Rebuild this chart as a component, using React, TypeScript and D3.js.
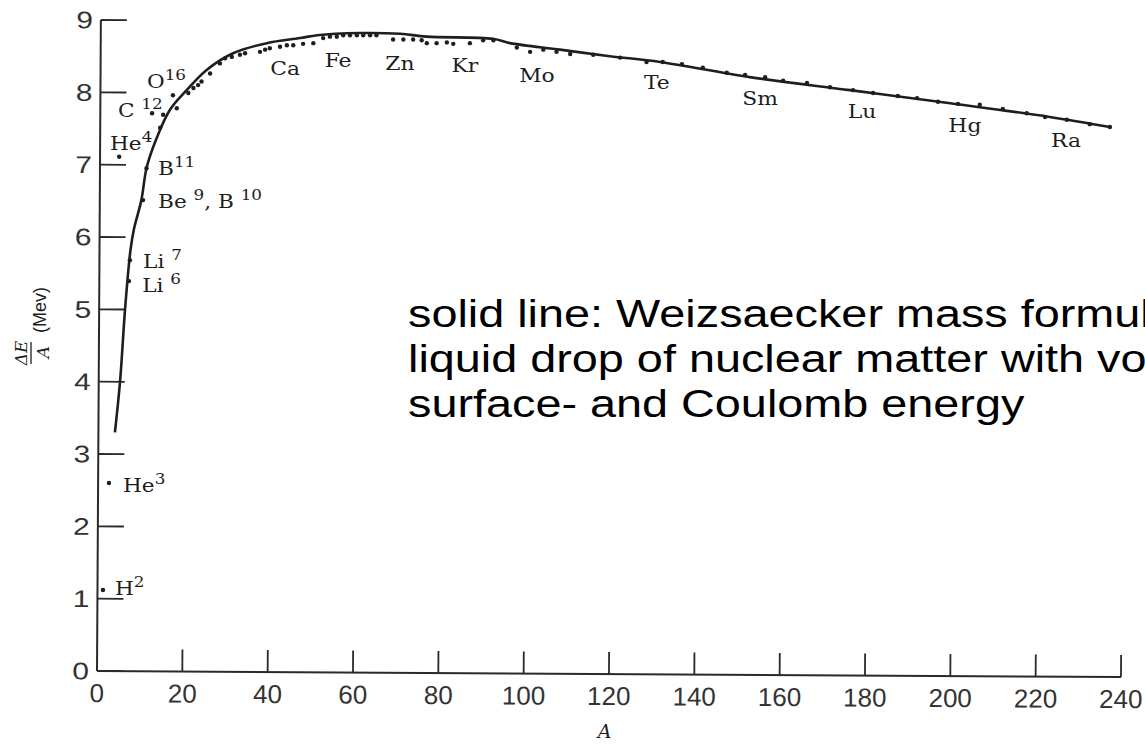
import React from "react";
import * as d3 from "d3";

// ---- data ----
const xTickValues = [0, 20, 40, 60, 80, 100, 120, 140, 160, 180, 200, 220, 240];
const yTickValues = [0, 1, 2, 3, 4, 5, 6, 7, 8, 9];

// Weizsaecker curve (A, ΔE/A)
const curveA = [4.2, 5.4, 6.6, 7.85, 8.7, 10.4, 11.6, 13.8, 17.1, 21.0, 25.7, 31.9, 39.8, 47.6, 51.6, 61.6, 71.0, 77.3, 92.8, 96.8, 108.5, 120.2, 132.0, 153.0, 176.5, 200.0, 223.3, 237.4];
const curveE = [3.3, 4.0, 5.02, 5.82, 6.12, 6.51, 6.95, 7.34, 7.76, 8.03, 8.31, 8.54, 8.68, 8.75, 8.79, 8.82, 8.81, 8.77, 8.74, 8.68, 8.59, 8.5, 8.42, 8.21, 8.03, 7.85, 7.66, 7.52];

// measured nuclides (A, ΔE/A)
const pointA = [1.4, 2.8, 5.2, 7.5, 7.7, 10.8, 11.6, 12.9, 14.8, 15.5, 17.8, 18.7, 21.4, 22.6, 23.7, 24.5, 26.5, 28.8, 30.0, 31.6, 33.5, 34.7, 38.2, 39.4, 40.5, 42.9, 44.5, 46.0, 48.3, 50.7, 53.0, 54.6, 56.2, 57.7, 59.3, 60.9, 62.4, 64.0, 65.5, 69.4, 71.8, 74.1, 76.1, 77.3, 79.6, 82.0, 83.5, 87.4, 90.5, 92.9, 98.4, 101.5, 104.6, 107.7, 110.9, 116.3, 122.6, 128.8, 132.6, 137.1, 142.0, 147.6, 151.9, 156.6, 160.8, 166.4, 171.8, 177.2, 181.9, 187.7, 192.2, 197.1, 201.8, 206.9, 212.3, 217.9, 222.2, 227.3, 232.7, 237.4];
const pointE = [1.12, 2.6, 7.11, 5.39, 5.68, 6.51, 6.95, 7.71, 7.51, 7.69, 7.96, 7.78, 7.99, 8.06, 8.10, 8.15, 8.26, 8.40, 8.47, 8.49, 8.52, 8.54, 8.56, 8.59, 8.61, 8.63, 8.65, 8.65, 8.67, 8.68, 8.75, 8.77, 8.77, 8.79, 8.79, 8.79, 8.79, 8.79, 8.79, 8.73, 8.73, 8.73, 8.72, 8.68, 8.68, 8.69, 8.67, 8.68, 8.72, 8.72, 8.62, 8.56, 8.59, 8.56, 8.53, 8.52, 8.48, 8.42, 8.42, 8.39, 8.34, 8.27, 8.24, 8.21, 8.16, 8.13, 8.07, 8.03, 7.99, 7.95, 7.92, 7.87, 7.84, 7.83, 7.77, 7.71, 7.66, 7.62, 7.56, 7.52];

// element labels along the curve (anchor A, ΔE/A)
const elementNames = ["Ca", "Fe", "Zn", "Kr", "Mo", "Te", "Sm", "Lu", "Hg", "Ra"];
const elementA = [44.1, 56.5, 71.0, 86.2, 103.1, 131.2, 155.4, 179.3, 203.4, 227.1];
const elementE = [8.24, 8.35, 8.31, 8.28, 8.14, 8.04, 7.83, 7.65, 7.45, 7.24];

// nuclide labels with mass-number superscripts
const nuclideParts: [string, string][][] = [
  [["O", "16"]],
  [["C ", "12"]],
  [["He", "4"]],
  [["B", "11"]],
  [["Be ", "9"], [", B ", "10"]],
  [["Li ", "7"]],
  [["Li ", "6"]],
  [["He", "3"]],
  [["H", "2"]],
];
const nuclideA = [11.7, 4.9, 3.05, 14.3, 14.3, 10.8, 10.6, 6.1, 4.2];
const nuclideE = [8.06, 7.66, 7.2, 6.86, 6.4, 5.57, 5.24, 2.47, 1.05];

const noteLines = [
  "solid line: Weizsaecker mass formula:",
  "liquid drop of nuclear matter with volume-,",
  "surface- and Coulomb energy",
];

const W = 1145;
const H = 744;

const SERIF = "'DejaVu Serif', 'Liberation Serif', serif";
const SANS = "'Liberation Sans', Arial, Helvetica, sans-serif";

export default function App() {
  const x = d3.scaleLinear().domain([0, 240]).range([97, 1121]);
  const y = d3.scaleLinear().domain([0, 9]).range([671, 20]);

  const curveData: [number, number][] = curveA.map((a, i) => [a, curveE[i]]);
  const line = d3
    .line<[number, number]>()
    .x((d) => x(d[0]))
    .y((d) => y(d[1]))
    .curve(d3.curveCatmullRom.alpha(0.5));

  const axisColor = "#2a2a2a";
  const ink = "#1e1e1e";

  return (
    <svg
      width={W}
      height={H}
      viewBox={`0 0 ${W} ${H}`}
      style={{ position: "absolute", left: 0, top: 0, background: "#fff" }}
    >
      <rect x={0} y={0} width={W} height={H} fill="#fff" />

      {/* axes (scan is slightly rotated) */}
      <g transform={`rotate(0.34 ${x(0)} ${y(0)})`}>
        <line x1={x(0)} x2={x(0)} y1={y(0)} y2={y(9)} stroke={axisColor} strokeWidth={2} />
        <line x1={x(0)} x2={x(240)} y1={y(0)} y2={y(0)} stroke={axisColor} strokeWidth={2} />
        {yTickValues.map((v) => (
          <g key={"yt" + v}>
            <line x1={x(0)} x2={x(0) + 26} y1={y(v)} y2={y(v)} stroke={axisColor} strokeWidth={1.8} />
            <text
              transform={`translate(${x(0) - 8},${y(v) + 8.5}) scale(1.25,1)`}
              textAnchor="end"
              fontFamily={SANS}
              fontSize={24}
              fill="#333"
            >
              {v}
            </text>
          </g>
        ))}
        {xTickValues.map((v) => (
          <g key={"xt" + v}>
            {v > 0 && (
              <line x1={x(v)} x2={x(v)} y1={y(0)} y2={y(0) - 22} stroke={axisColor} strokeWidth={1.8} />
            )}
            <text x={x(v)} y={y(0) + 31} textAnchor="middle" fontFamily={SANS} fontSize={26} fill="#333">
              {v}
            </text>
          </g>
        ))}
      </g>

      {/* x axis title */}
      <text
        x={x(119)}
        y={738}
        textAnchor="middle"
        fontFamily={SERIF}
        fontStyle="italic"
        fontSize={19}
        fill={ink}
      >
        A
      </text>

      {/* y axis title: ΔE/A (Mev) rotated */}
      <g transform="rotate(-90)">
        <text x={-353} y={27} textAnchor="middle" fontFamily={SERIF} fontStyle="italic" fontSize={17} fill={ink}>
          ΔE
        </text>
        <line x1={-364} x2={-342} y1={31} y2={31} stroke={ink} strokeWidth={1.3} />
        <text x={-352} y={49} textAnchor="middle" fontFamily={SERIF} fontStyle="italic" fontSize={17} fill={ink}>
          A
        </text>
        <text x={-333} y={46} textAnchor="start" fontFamily={SANS} fontSize={18} fill={ink}>
          (Mev)
        </text>
      </g>

      {/* Weizsaecker curve */}
      <path d={line(curveData) || ""} fill="none" stroke={ink} strokeWidth={2.6} />

      {/* measured points */}
      {pointA.map((a, i) => (
        <circle key={"p" + i} cx={x(a)} cy={y(pointE[i])} r={2.2} fill={ink} />
      ))}

      {/* element labels */}
      {elementNames.map((n, i) => (
        <text
          key={"el" + n}
          transform={`translate(${x(elementA[i])},${y(elementE[i])}) scale(1.15,1)`}
          textAnchor="middle"
          fontFamily={SERIF}
          fontSize={19}
          fill={ink}
        >
          {n}
        </text>
      ))}

      {/* nuclide labels */}
      {nuclideParts.map((parts, i) => (
        <text
          key={"nl" + i}
          transform={`translate(${x(nuclideA[i])},${y(nuclideE[i])}) scale(1.2,1)`}
          fontFamily={SERIF}
          fontSize={18}
          fill={ink}
        >
          {parts.map(([base, sup], j) => (
            <React.Fragment key={j}>
              <tspan dy={j === 0 ? 0 : 8} style={{ whiteSpace: "pre" }}>
                {base}
              </tspan>
              <tspan dy={-8} fontSize={14}>
                {sup}
              </tspan>
            </React.Fragment>
          ))}
        </text>
      ))}

      {/* annotation (runs off the right edge as in the reference) */}
      {noteLines.map((t, i) => (
        <text
          key={"note" + i}
          transform={`translate(408,${327 + i * 45}) scale(1.2,1)`}
          fontFamily={SANS}
          fontSize={39}
          fill="#000"
          style={{ whiteSpace: "pre" }}
        >
          {t}
        </text>
      ))}
    </svg>
  );
}
